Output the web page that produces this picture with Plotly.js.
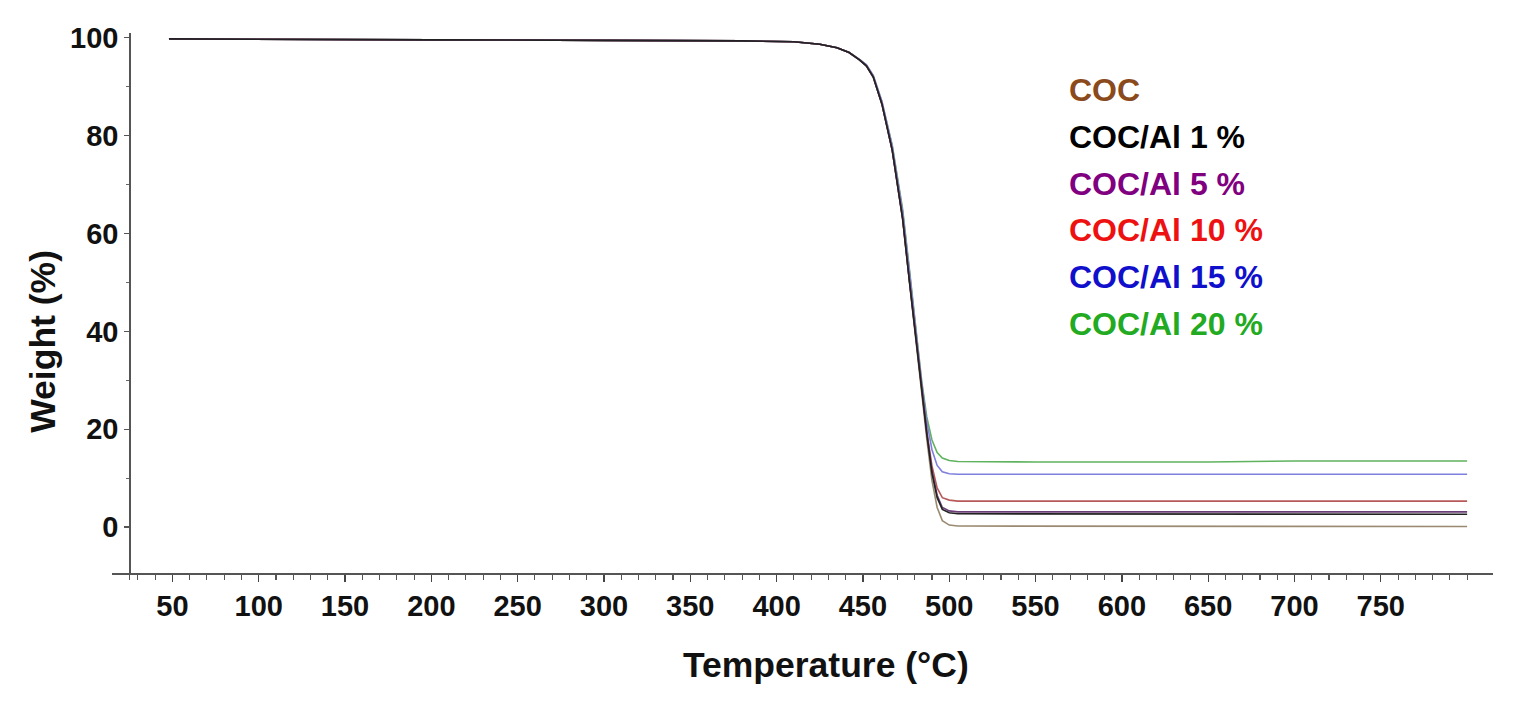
<!DOCTYPE html>
<html>
<head>
<meta charset="utf-8">
<script src="https://cdn.plot.ly/plotly-3.0.1.min.js"></script>
<style>
  html, body { margin: 0; padding: 0; background: #fff; }
  #chart { width: 1526px; height: 715px; }
</style>
</head>
<body>
<div id="chart"></div>
<script>
const temps = [48, 100, 200, 300, 380, 410, 425, 435, 442, 448, 452, 456, 461, 467, 473, 477, 481, 484, 487, 490, 493, 496, 500, 505, 550, 600, 650, 700, 750, 800];

const wCOC   = [99.8, 99.7, 99.6, 99.5, 99.4, 99.2, 98.7, 98.0, 97.0, 95.5, 94.3, 92.0, 86.5, 77.0, 63.0, 50.0, 37.0, 27.0, 18.0, 9.5, 4.0, 1.3, 0.4, 0.2, 0.2, 0.2, 0.1, 0.1, 0.1, 0.1];
const wAl1   = [99.8, 99.7, 99.6, 99.5, 99.4, 99.2, 98.7, 98.0, 97.0, 95.5, 94.3, 92.0, 86.5, 77.0, 63.0, 50.0, 37.2, 27.5, 19.0, 11.0, 6.0, 3.6, 2.9, 2.7, 2.7, 2.7, 2.6, 2.6, 2.6, 2.6];
const wAl5   = [99.8, 99.7, 99.6, 99.5, 99.4, 99.2, 98.7, 98.0, 97.0, 95.5, 94.3, 92.0, 86.5, 77.0, 63.2, 50.2, 37.4, 27.8, 19.5, 11.5, 6.5, 4.0, 3.3, 3.1, 3.1, 3.1, 3.1, 3.1, 3.1, 3.1];
const wAl10  = [99.8, 99.7, 99.6, 99.5, 99.4, 99.2, 98.7, 98.0, 97.0, 95.5, 94.3, 92.0, 86.5, 77.0, 63.2, 50.3, 37.6, 28.0, 19.5, 12.5, 8.0, 6.0, 5.5, 5.3, 5.3, 5.3, 5.3, 5.3, 5.3, 5.3];
const wAl15  = [99.8, 99.7, 99.6, 99.5, 99.4, 99.2, 98.7, 98.0, 97.0, 95.6, 94.5, 92.3, 87.0, 77.8, 64.5, 52.0, 39.5, 29.5, 21.5, 15.8, 12.6, 11.3, 10.9, 10.8, 10.8, 10.8, 10.8, 10.8, 10.8, 10.8];
const wAl20  = [99.8, 99.7, 99.6, 99.5, 99.4, 99.2, 98.7, 98.0, 97.0, 95.6, 94.5, 92.3, 87.0, 78.0, 65.0, 52.5, 40.0, 30.0, 22.5, 17.8, 15.2, 14.1, 13.6, 13.4, 13.3, 13.3, 13.3, 13.5, 13.5, 13.5];

const seriesNames = ["COC", "COC/Al 1 %", "COC/Al 5 %", "COC/Al 10 %", "COC/Al 15 %", "COC/Al 20 %"];
const seriesData = [wCOC, wAl1, wAl5, wAl10, wAl15, wAl20];
const lineColors = ["#9a8a72", "#222222", "#6a3f78", "#b85a5a", "#7f7fe0", "#5fb35f"];
const labelColors = ["#8b4a1c", "#000000", "#800080", "#ee1111", "#1010cc", "#22aa22"];

const xTickVals = [50, 100, 150, 200, 250, 300, 350, 400, 450, 500, 550, 600, 650, 700, 750];
const xTickText = ["50", "100", "150", "200", "250", "300", "350", "400", "450", "500", "550", "600", "650", "700", "750"];
const yTickVals = [0, 20, 40, 60, 80, 100];
const yTickText = ["0", "20", "40", "60", "80", "100"];

const xMinor = [25];
for (let t = 30; t <= 800; t += 10) xMinor.push(t);

const FONT = "Liberation Sans, Arial, sans-serif";

// draw COC first, 1 % last so the black curve sits on top
const order = [0, 5, 4, 3, 2, 1];
const traces = order.map(i => ({
  x: temps,
  y: seriesData[i],
  name: seriesNames[i],
  type: "scatter",
  mode: "lines",
  line: { color: lineColors[i], width: 1.6 },
  showlegend: false,
}));

const labels = seriesNames.map((name, i) => ({
  text: name,
  xref: "x",
  yref: "y",
  x: 568,
  y: 89.3 - i * 9.55,
  xanchor: "left",
  yanchor: "middle",
  showarrow: false,
  font: { family: FONT, size: 32, weight: "bold", color: labelColors[i] },
}));

labels.push({
  text: "Temperature (°C)",
  xref: "paper",
  yref: "paper",
  x: 0.517,
  y: -0.17,
  xanchor: "center",
  yanchor: "middle",
  showarrow: false,
  font: { family: FONT, size: 35.5, weight: "bold", color: "#111" },
});
labels.push({
  text: "Weight (%)",
  xref: "paper",
  yref: "paper",
  x: -0.05,
  y: 0.43,
  xanchor: "center",
  yanchor: "middle",
  textangle: -90,
  showarrow: false,
  font: { family: FONT, size: 35.5, weight: "bold", color: "#111" },
});

Plotly.newPlot(
  "chart",
  traces,
  {
    width: 1526,
    height: 715,
    margin: { l: 112, r: 33, t: 33, b: 142 },
    paper_bgcolor: "#fff",
    plot_bgcolor: "#fff",
    font: { family: FONT, color: "#111" },
    xaxis: {
      range: [15, 815],
      showgrid: false,
      zeroline: false,
      showline: true,
      linecolor: "#555",
      linewidth: 1.5,
      tickmode: "array",
      tickvals: xTickVals,
      ticktext: xTickText,
      ticks: "outside",
      ticklen: 7,
      tickwidth: 1.3,
      tickcolor: "#444",
      ticklabelstandoff: 0,
      tickfont: { family: FONT, size: 29, weight: "bold", color: "#111" },
      minor: { tickmode: "array", tickvals: xMinor, ticks: "outside", ticklen: 5, tickwidth: 1.1, tickcolor: "#555", showgrid: false },
    },
    yaxis: {
      range: [-9.4, 101],
      anchor: "free",
      position: 0.0125,
      showgrid: false,
      zeroline: false,
      showline: true,
      linecolor: "#555",
      linewidth: 1.5,
      tickmode: "array",
      tickvals: yTickVals,
      ticktext: yTickText,
      ticks: "outside",
      ticklen: 5,
      tickwidth: 1.2,
      tickcolor: "#555",
      tickfont: { family: FONT, size: 29, weight: "bold", color: "#111" },
      minor: { tickmode: "array", tickvals: [10, 30, 50, 70, 90], ticks: "outside", ticklen: 3, tickwidth: 1, tickcolor: "#666", showgrid: false },
    },
    annotations: labels,
  },
  { staticPlot: true }
);
</script>
</body>
</html>
